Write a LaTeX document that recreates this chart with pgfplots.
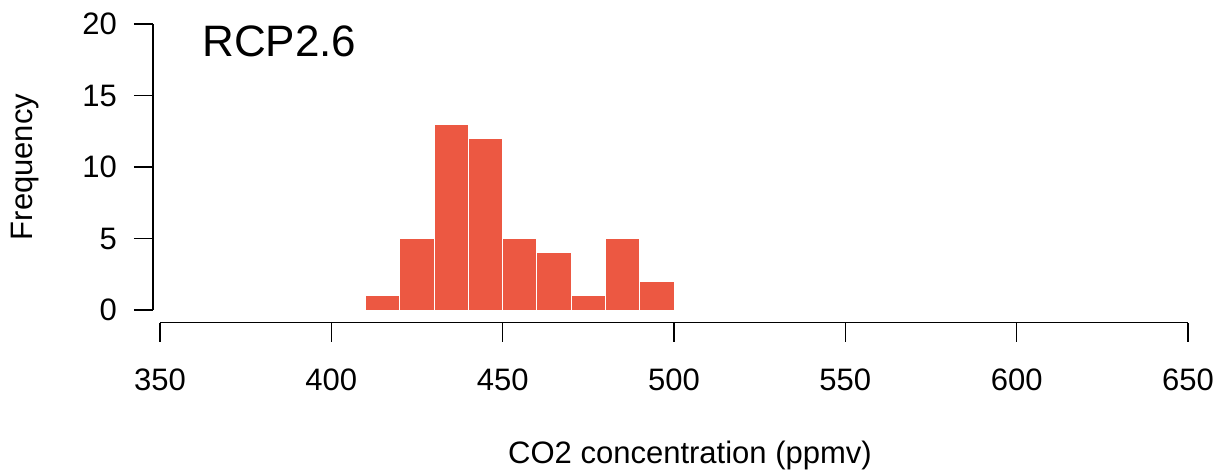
\documentclass[border=0pt]{standalone}
\usepackage{pgfplots}
\pgfplotsset{compat=1.18}
\usepackage{fontspec}
\setmainfont{Liberation Sans}
\definecolor{barred}{RGB}{236,88,66}
\begin{document}
\begin{tikzpicture}
\path[use as bounding box] (-80pt,-81pt) rectangle (530.5pt,155pt);
\begin{axis}[
  at={(0,0)}, anchor=south west,
  scale only axis, width=514pt, height=143pt,
  xmin=350, xmax=650, ymin=0, ymax=20,
  axis x line*=bottom, axis y line*=left,
  axis x line shift=6.35pt, axis y line shift=3.5pt,
  axis line style={-, line width=0.7pt, black},
  tick align=outside, major tick length=9.5pt,
  every tick/.style={line width=0.7pt, black},
  xtick={350,400,...,650}, ytick={0,5,...,20},
  minor tick num=0,
  /pgf/number format/assume math mode=true,
  /pgf/number format/1000 sep={},
  ticklabel style={font=\fontsize{15.5}{18}\selectfont},
  xticklabel style={yshift=-10pt},
  yticklabel style={xshift=-5pt},
  clip=false,
]
\addplot[ybar interval, fill=barred, draw=white, line width=0.5pt]
  coordinates {(410,1) (420,5) (430,13) (440,12) (450,5) (460,4) (470,1) (480,5) (490,2) (500,2)};
\end{axis}
\node[anchor=base west, inner sep=0, font=\fontsize{22}{26}\selectfont] at (21pt,127pt) {RCP2.6};
\node[anchor=base, inner sep=0, font=\fontsize{15.5}{18}\selectfont] at (265pt,-76.5pt) {CO2 concentration (ppmv)};
\node[anchor=base, rotate=90, inner sep=0, font=\fontsize{15.5}{18}\selectfont] at (-63.5pt,71.5pt) {Frequency};
\end{tikzpicture}
\end{document}
